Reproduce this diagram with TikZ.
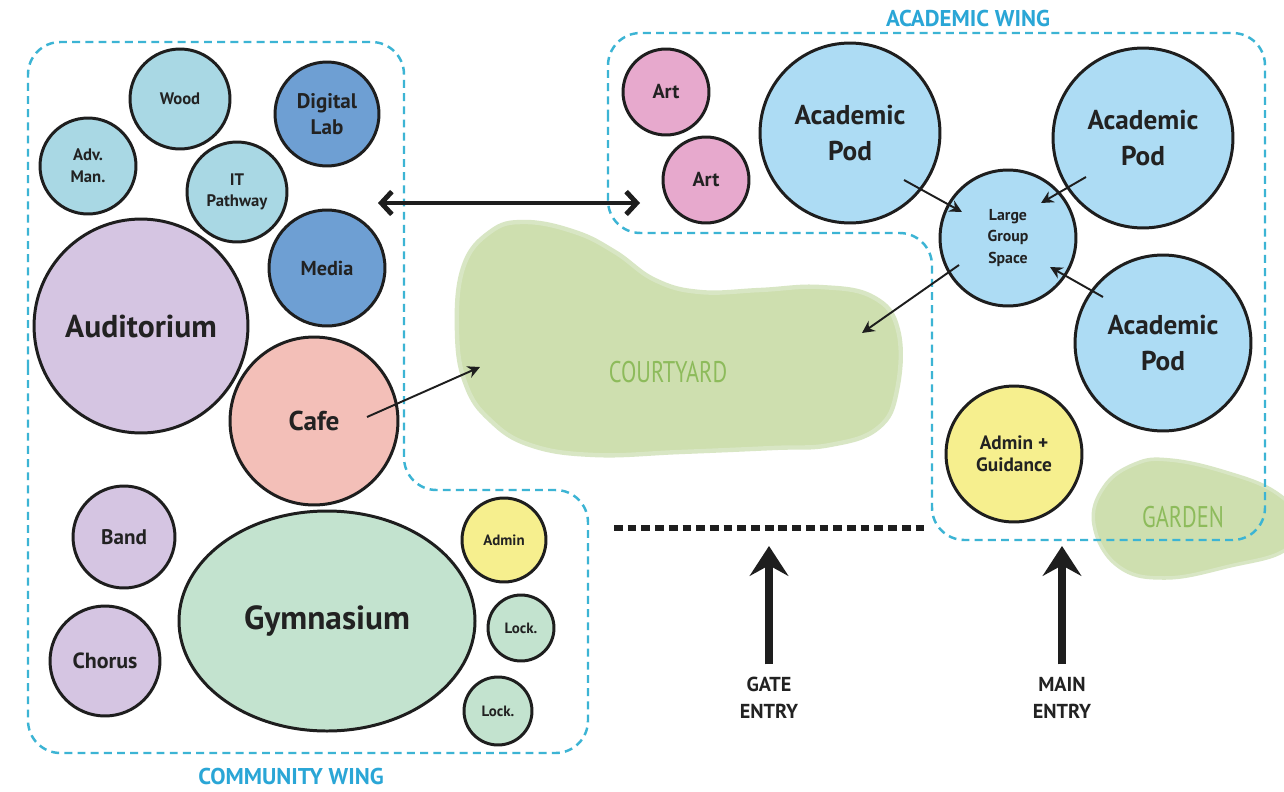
\documentclass[tikz,border=0pt]{standalone}
\usepackage{fontspec}
\setmainfont{PT Sans}
\newfontfamily\condfont[FakeStretch=0.75]{PT Sans}
\usetikzlibrary{arrows.meta,shapes.geometric,calc}
\definecolor{outl}{HTML}{1E1E1E}
\definecolor{txt}{HTML}{222222}
\definecolor{cLight}{HTML}{A9D8E4}
\definecolor{cDark}{HTML}{6E9FD3}
\definecolor{cLav}{HTML}{D5C5E2}
\definecolor{cCafe}{HTML}{F3BFB8}
\definecolor{cMint}{HTML}{C3E3CF}
\definecolor{cYel}{HTML}{F6EF8E}
\definecolor{cPink}{HTML}{E7A9CD}
\definecolor{cPod}{HTML}{ADDCF4}
\definecolor{cYard}{HTML}{CEDFAF}
\definecolor{cHalo}{HTML}{D8E6C4}
\definecolor{wingc}{HTML}{3CB4D4}
\definecolor{labc}{HTML}{2AA6D6}
\definecolor{grtxt}{HTML}{8DBB5B}
\newcommand\fsz[2]{\bfseries\fontsize{#1}{#2}\selectfont}
\begin{document}
\begin{tikzpicture}[x=0.02cm,y=-0.02cm,
  bub/.style={circle, draw=outl, line width=1.7pt, inner sep=0pt, align=center, text=txt},
  rad/.style={minimum size={#1*0.04cm}},
  wing/.style={draw=wingc, line width=1.4pt, dash pattern=on 4.5pt off 3pt, rounded corners=0.65cm},
  arr/.style={draw=outl, line width=1.1pt, -{Stealth[length=7pt,width=7pt]}},
  link/.style={draw=outl, line width=2.8pt, {Straight Barb[length=6pt,width=13pt]}-{Straight Barb[length=6pt,width=13pt]}},
  entry/.style={draw=outl, line width=5pt, -{Stealth[length=17pt,width=22pt,inset=6pt]}},
  dotline/.style={draw=outl, line width=3.4pt, dash pattern=on 5pt off 2.8pt},
  wlabel/.style={text=labc, font=\fsz{13}{15}},
  elabel/.style={align=center, text=txt, font=\fsz{11.5}{15}},
  greenlbl/.style={text=grtxt, font=\condfont\fontsize{17}{17}\selectfont}
]
\useasboundingbox (0,0) rectangle (1284,791);
\fill[white] (0,0) rectangle (1284,791);

% green areas
\begin{scope}
\clip (0,0) rectangle (1284,791);
\path[fill=cYard, draw=cHalo, line width=2.5pt] plot[smooth cycle, tension=0.7] coordinates {
 (457,333) (463,268) (490,232) (525,222) (575,232) (615,252) (655,280) (700,292)
 (760,290) (820,287) (873,297) (898,330) (897,390) (878,428) (830,445)
 (773,448) (680,452) (594,455) (530,445) (490,420) (466,385)};
\path[fill=cYard, draw=cHalo, line width=2pt] plot[smooth cycle, tension=0.7] coordinates {
 (1094,525) (1104,487) (1135,464) (1170,460) (1225,472) (1275,492) (1298,520)
 (1285,550) (1230,566) (1165,578) (1118,566)};
\end{scope}
\node[greenlbl] (cylbl) at (668,372) {COURTYARD};
\node[greenlbl] (gdlbl) at (1183,517) {GARDEN};

% wing boundaries
\draw[wing] (28,400) -- (28,42) -- (404,42) -- (404,490) -- (588,490) -- (588,753) -- (28,753) -- cycle;
\draw[wing] (608,150) -- (608,33) -- (1265,33) -- (1265,540) -- (932,540) -- (932,233) -- (608,233) -- cycle;
\node[wlabel] (cwing) at (291,776) {COMMUNITY WING};
\node[wlabel] (awing) at (968,19) {ACADEMIC WING};

% community wing bubbles
\node[bub, rad=50, fill=cLight, font=\fsz{9.5}{12}] (wood) at (180,99) {Wood};
\node[bub, rad=48, fill=cLight, font=\fsz{9.5}{12.5}] (advman) at (88,166) {Adv.\\Man.};
\node[bub, rad=52, fill=cDark, font=\fsz{12}{15}] (digital) at (327,114) {Digital\\Lab};
\node[bub, rad=50, fill=cLight, font=\fsz{9.5}{12}] (itpath) at (237,192) {IT\\Pathway};
\node[bub, rad=58, fill=cDark, font=\fsz{11.5}{14}] (media) at (327,268) {Media};
\node[bub, rad=107, fill=cLav, font=\fsz{18}{20}] (audit) at (141,326) {Auditorium};
\node[bub, rad=84, fill=cCafe, font=\fsz{15.5}{18}] (cafe) at (314,421) {Cafe};
\node[bub, rad=51, fill=cLav, font=\fsz{12}{14}] (band) at (124,537) {Band};
\node[bub, rad=55, fill=cLav, font=\fsz{12.5}{14}] (chorus) at (105,661) {Chorus};
\node[ellipse, draw=outl, line width=1.7pt, inner sep=0pt, fill=cMint, text=txt,
      minimum width=296*0.02cm, minimum height=220*0.02cm, font=\fsz{19}{21}] (gym) at (327,621) {Gymnasium};
\node[bub, rad=42, fill=cYel, font=\fsz{8.5}{10}] (admin) at (504,540) {Admin};
\node[bub, rad=33, fill=cMint, font=\fsz{8.5}{10}] (lock1) at (521,628) {Lock.};
\node[bub, rad=34, fill=cMint, font=\fsz{8.5}{10}] (lock2) at (498,711) {Lock.};

% academic wing bubbles
\node[bub, rad=43, fill=cPink, font=\fsz{11.5}{13}] (art1) at (666,92) {Art};
\node[bub, rad=43, fill=cPink, font=\fsz{11.5}{13}] (art2) at (706,180) {Art};
\node[bub, rad=90, fill=cPod, font=\fsz{15.5}{20}] (pod1) at (850,133) {Academic\\Pod};
\node[bub, rad=90, fill=cPod, font=\fsz{15.5}{20}] (pod2) at (1143,138) {Academic\\Pod};
\node[bub, rad=68, fill=cPod, font=\fsz{9}{12}] (lgs) at (1008,238) {Large\\Group\\Space};
\node[bub, rad=88, fill=cPod, font=\fsz{15.5}{20}] (pod3) at (1163,343) {Academic\\Pod};
\node[bub, rad=68, fill=cYel, font=\fsz{11}{12.5}] (adming) at (1014,454) {Admin +\\Guidance};

% connectors
\coordinate (cyW) at (480,367);
\coordinate (cyE) at (862,333);
\draw[arr] ($(pod1.center)+(54,47)$) -- ($(lgs.center)+(-46,-26)$);
\draw[arr] ($(pod2.center)+(-57,39)$) -- ($(lgs.center)+(33,-35)$);
\draw[arr] ($(pod3.center)+(-60,-46)$) -- ($(lgs.center)+(42,29)$);
\draw[arr] ($(lgs.center)+(-49,27)$) -- (cyE);
\draw[arr] ($(cafe.center)+(53,-4)$) -- (cyW);

\coordinate (linkL) at (378,203);
\coordinate (linkR) at (640,203);
\draw[link] (linkL) -- (linkR);

% entries
\coordinate (dotL) at (614,528);
\coordinate (dotR) at (925,528);
\draw[dotline] (dotL) -- (dotR);
\node[elabel] (gate) at (769,698) {GATE\\ENTRY};
\node[elabel] (mainent) at (1062,698) {MAIN\\ENTRY};
\coordinate (gtip) at (769,546);
\coordinate (mtip) at (1062,546);
\draw[entry] ([yshift=4pt]gate.north) -- (gtip);
\draw[entry] ([yshift=4pt]mainent.north) -- (mtip);
\end{tikzpicture}
\end{document}
